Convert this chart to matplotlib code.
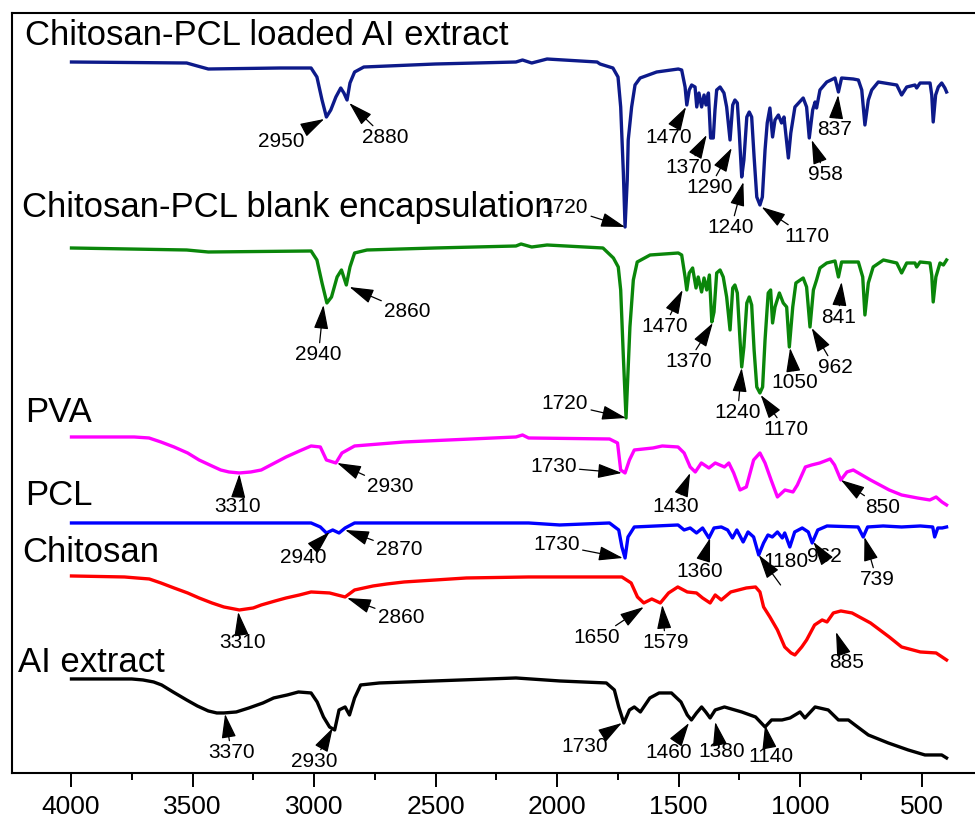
import matplotlib
matplotlib.use("Agg")
import matplotlib.pyplot as plt

plt.rcParams['font.family'] = ['Liberation Sans', 'DejaVu Sans']

# ---------------- data (wavenumber cm-1, stacked transmittance a.u.) ----------------
loaded_wn = [3998, 3524, 3480, 3435, 3140, 3012, 2988, 2967, 2949, 2931, 2910, 2890, 2877, 2864, 2852, 2833, 2795,
             2501, 2169, 2142, 2104, 2041, 1835, 1823, 1770, 1749, 1738, 1727, 1720, 1711, 1707, 1693, 1679,
             1658, 1590, 1501, 1487, 1473, 1466, 1456, 1446, 1432, 1425, 1416, 1405, 1395, 1387, 1377, 1368,
             1357, 1350, 1343, 1329, 1313, 1302, 1288, 1277, 1268, 1258, 1250, 1240, 1231, 1219, 1209, 1199,
             1189, 1178, 1165, 1155, 1144, 1135, 1124, 1113, 1103, 1089, 1076, 1066, 1048, 1038, 1021, 987,
             973, 962, 948, 938, 932, 918, 890, 856, 842, 829, 781, 760, 746, 733, 719, 705, 678, 602, 582,
             561, 527, 520, 506, 465, 458, 452, 442, 431, 417, 404, 397]
loaded_t = [711, 710, 707, 704, 705, 705, 696, 673, 656, 663, 676, 685, 680, 673, 690, 701, 706,
            709, 711, 713, 710, 714, 711, 709, 705, 696, 666, 600, 546, 593, 633, 666, 688,
            695, 701, 704, 703, 686, 668, 683, 688, 686, 666, 680, 666, 678, 668, 680, 635,
            635, 663, 683, 686, 680, 666, 633, 668, 673, 670, 640, 596, 613, 656, 661, 656,
            616, 576, 568, 576, 623, 650, 665, 636, 653, 658, 650, 656, 615, 640, 666, 675,
            666, 635, 663, 671, 665, 683, 691, 695, 681, 695, 694, 693, 683, 648, 673, 683, 691, 688, 678,
            686, 688, 685, 690, 690, 678, 651, 678, 686, 690, 685, 681]

blank_wn = [3998, 3524, 3480, 3435, 3012, 2988, 2967, 2947, 2928, 2905, 2887, 2867, 2852, 2833, 2782, 2502, 2169,
            2148, 2104, 2041, 1811, 1768, 1748, 1738, 1727, 1716, 1707, 1700, 1686, 1670, 1617, 1501, 1487,
            1473, 1466, 1456, 1442, 1428, 1419, 1405, 1395, 1384, 1373, 1363, 1354, 1343, 1329, 1316, 1302,
            1288, 1277, 1268, 1258, 1247, 1240, 1231, 1219, 1209, 1199, 1189, 1178, 1165, 1154, 1144, 1131,
            1121, 1113, 1103, 1085, 1069, 1055, 1044, 1030, 1017, 987, 973, 959, 945, 932, 918, 890, 856,
            842, 829, 760, 742, 733, 719, 699, 657, 602, 582, 561, 527, 520, 506, 465, 458, 452, 441, 424,
            410, 397]
blank_t = [525, 523, 522, 521, 522, 513, 490, 470, 476, 496, 503, 488, 506, 520, 523, 525, 527,
           529, 526, 528, 525, 515, 506, 483, 416, 355, 406, 446, 493, 511, 518, 520, 518,
           496, 483, 500, 505, 485, 496, 481, 495, 483, 498, 451, 461, 500, 503, 496, 476,
           443, 485, 488, 480, 433, 406, 426, 470, 476, 468, 423, 386, 380, 386, 433, 480,
           483, 450, 466, 480, 470, 466, 426, 466, 490, 495, 486, 446, 483, 493, 505, 510, 512,
           496, 511, 511, 496, 458, 490, 506, 513, 510, 500, 510, 510, 506, 511, 510, 498, 471, 496, 510,
           508, 513]

pva_wn = [3998, 3740, 3679, 3630, 3576, 3520, 3473, 3420, 3384, 3350, 3307, 3260, 3217, 3170, 3115, 3060,
          3012, 2974, 2949, 2910, 2885, 2833, 2629, 2169,
          2142, 2117, 1784, 1751, 1738, 1720, 1702, 1682, 1605, 1567, 1502, 1477, 1452, 1431, 1406, 1375,
          1349, 1311, 1293, 1273, 1247, 1221, 1191, 1165, 1144, 1119, 1093, 1062, 1029, 1011, 978, 952,
          919, 876, 858, 832, 807, 781, 710, 633, 582, 517, 466, 440, 416, 397]
pva_t = [336, 336, 335, 331, 326, 320, 313, 307, 303, 301, 300, 301, 303, 309, 316, 322,
         327, 326, 313, 310, 320, 327, 331, 336,
         338, 335, 334, 330, 303, 300, 313, 323, 325, 327, 326, 320, 306, 301, 310, 305,
         310, 306, 310, 300, 283, 286, 313, 320, 310, 293, 276, 283, 281, 288, 306, 308,
         310, 314, 308, 293, 301, 303, 293, 283, 278, 275, 273, 276, 271, 268]

pcl_wn = [3998, 3012, 2974, 2949, 2923, 2897, 2872, 2833, 2117, 1989, 1784, 1746, 1733, 1720, 1708, 1682,
          1502, 1477, 1452, 1426, 1401, 1375, 1354, 1324, 1298, 1278, 1260, 1234, 1214, 1191, 1170, 1150,
          1132, 1114, 1093, 1073, 1063, 1042, 1022, 991, 966, 950, 927, 889, 761, 740, 722, 658, 582,
          505, 454, 446, 433, 415, 397]
pcl_t = [250, 250, 246, 240, 243, 240, 245, 250, 250, 248, 250, 243, 226, 215, 236, 246,
         248, 243, 245, 240, 245, 235, 245, 246, 243, 235, 243, 231, 241, 236, 218, 230,
         238, 236, 241, 235, 240, 226, 241, 245, 241, 230, 243, 247, 246, 236, 246, 247, 246,
         247, 246, 236, 245, 245, 246]

chitosan_wn = [3998, 3780, 3730, 3678, 3630, 3576, 3520, 3473, 3420, 3371, 3307, 3250, 3217, 3160, 3115,
               3060, 3012, 2936, 2872, 2833, 2757, 2700, 2629, 2500,
               2373, 2117, 1733, 1695, 1669, 1643, 1610, 1575, 1541, 1503, 1464, 1426, 1401, 1370, 1349,
               1324, 1285, 1221, 1183, 1165, 1150, 1124, 1093, 1063, 1037, 1021, 993, 973, 940, 909, 889,
               863, 832, 786, 710, 633, 582, 505, 440, 397]
chitosan_t = [197, 196, 195, 194, 190, 185, 180, 175, 170, 166, 163, 165, 168, 172, 175,
              178, 181, 180, 176, 183, 187, 189, 191, 193,
              195, 196, 196, 190, 176, 170, 174, 170, 180, 186, 181, 180, 175, 170, 178,
              173, 181, 185, 186, 181, 166, 156, 143, 126, 120, 118, 126, 133, 148, 153, 151,
              160, 162, 160, 150, 136, 126, 121, 120, 113]

extract_wn = [3998, 3750, 3704, 3660, 3627, 3580, 3524, 3480, 3435, 3400, 3371, 3320, 3268, 3210, 3166,
              3110, 3064, 3012, 2987, 2961, 2936, 2915, 2897,
              2872, 2854, 2833, 2808, 2731, 2169, 1989, 1797, 1764, 1746, 1725, 1702, 1682, 1657, 1618,
              1580, 1529, 1490, 1464, 1447, 1426, 1405, 1388, 1370, 1349, 1311, 1240, 1183, 1144, 1117,
              1074, 1041, 1000, 980, 938, 884, 842, 801, 774, 719, 637, 555, 486, 417, 397]
extract_t = [94, 94, 93, 91, 88, 81, 73, 67, 62, 60, 60, 61, 65, 70, 75,
             78, 81, 80, 71, 56, 46, 43, 63,
             66, 58, 75, 88, 90, 95, 92, 90, 83, 66, 50, 63, 66, 61, 75,
             80, 80, 71, 58, 53, 60, 66, 61, 55, 63, 66, 61, 56, 46, 53,
             53, 55, 61, 55, 66, 63, 53, 53, 48, 38, 30, 23, 18, 18, 15]

series_names = ["Chitosan-PCL loaded AI extract", "Chitosan-PCL blank encapsulation",
                "PVA", "PCL", "Chitosan", "AI extract"]
series_colors = ["#0d1a8a", "#0a860a", "#ff00ff", "#0000ff", "#ff0000", "#000000"]
series_wn = [loaded_wn, blank_wn, pva_wn, pcl_wn, chitosan_wn, extract_wn]
series_t = [loaded_t, blank_t, pva_t, pcl_t, chitosan_t, extract_t]

# label anchor (wavenumber at left edge, baseline value)
name_pos = [(4189, 728), (4202, 556), (4189, 351), (4189, 268), (4202, 211), (4218, 101)]

# peak annotations: (text, text_wn, text_y, tip_wn, tip_y)
peak_labels = [
    ("2950", 3136, 631, 2958, 654), ("2880", 2705, 635, 2855, 670), ("1720", 1967, 565, 1720, 546),
    ("1470", 1542, 635, 1469, 666), ("1370", 1460, 605, 1384, 638), ("1290", 1373, 585, 1281, 625),
    ("1240", 1284, 545, 1233, 591), ("1170", 973, 536, 1158, 566), ("958", 897, 598, 952, 633),
    ("837", 856, 643, 843, 678),
    ("2940", 2982, 418, 2961, 468), ("2860", 2616, 461, 2854, 486), ("1720", 1967, 369, 1716, 355),
    ("1470", 1559, 446, 1483, 483), ("1370", 1460, 411, 1359, 450), ("1240", 1257, 360, 1240, 405),
    ("1170", 1058, 343, 1162, 378), ("1050", 1021, 390, 1041, 425), ("962", 856, 405, 952, 445),
    ("841", 843, 455, 829, 491),
    ("3310", 3314, 266, 3307, 299), ("2930", 2685, 286, 2905, 310), ("1730", 2015, 306, 1733, 300),
    ("1430", 1510, 266, 1452, 300), ("850", 659, 265, 832, 293),
    ("2940", 3046, 215, 2936, 241), ("2870", 2649, 223, 2872, 243), ("1730", 2002, 228, 1729, 215),
    ("1360", 1413, 201, 1370, 235), ("962", 901, 216, 945, 231), ("739", 684, 193, 735, 236),
    ("3310", 3294, 130, 3312, 161), ("2860", 2642, 155, 2864, 175), ("1650", 1835, 135, 1643, 166),
    ("1579", 1554, 130, 1567, 168), ("885", 807, 110, 852, 141),
    ("3370", 3340, 20, 3366, 59), ("2930", 3000, 11, 2923, 45), ("1730", 1887, 26, 1733, 50),
    ("1460", 1541, 20, 1457, 50), ("1380", 1324, 21, 1349, 51), ("1140", 1119, 16, 1144, 48),
]
# PCL 1180 label with arrow coming from below
pcl_1180 = ("1180", 1056, 211, 1080, 188, 1170, 218)

x_ticks = [4000, 3500, 3000, 2500, 2000, 1500, 1000, 500]
x_minor = [3750, 3250, 2750, 2250, 1750, 1250, 750]

# ---------------- figure ----------------
fig = plt.figure(figsize=(9.75, 8.23), dpi=100)
ax = fig.add_axes([0.012, 0.0608, 0.988, 0.9234])

for wn, t, c in zip(series_wn, series_t, series_colors):
    ax.plot(wn, t, color=c, lw=2.4, solid_joinstyle='round', zorder=3)

for name, (xw, yb) in zip(series_names, name_pos):
    ax.text(xw, yb, name, fontsize=25, ha='left', va='baseline', color='black', zorder=5)

arrow_kw = dict(arrowstyle='-|>,head_length=1.5,head_width=0.45', color='black', lw=0.9,
                mutation_scale=10, shrinkA=0, shrinkB=0)
for txt, tx, ty, px, py in peak_labels:
    ax.annotate(txt, xy=(px, py), xytext=(tx, ty), fontsize=15, ha='center', va='center',
                arrowprops=arrow_kw, zorder=4)

txt, tx, ty, ax0, ay0, px, py = pcl_1180
ax.text(tx, ty, txt, fontsize=15, ha='center', va='center', zorder=4)
ax.annotate("", xy=(px, py), xytext=(ax0, ay0), arrowprops=arrow_kw, zorder=4)

ax.set_xlim(4244, 280)
ax.set_ylim(0, 760)
ax.set_xticks(x_ticks)
ax.set_xticklabels([str(v) for v in x_ticks], fontsize=19)
ax.set_xticks(x_minor, minor=True)
ax.tick_params(axis='x', which='major', direction='out', length=10, width=1.4, pad=6)
ax.tick_params(axis='x', which='minor', direction='out', length=5, width=1.4)
ax.set_yticks([])
for s in ['left', 'top', 'bottom']:
    ax.spines[s].set_linewidth(1.5)
ax.spines['right'].set_visible(False)

fig.savefig("out.png", dpi=100)
